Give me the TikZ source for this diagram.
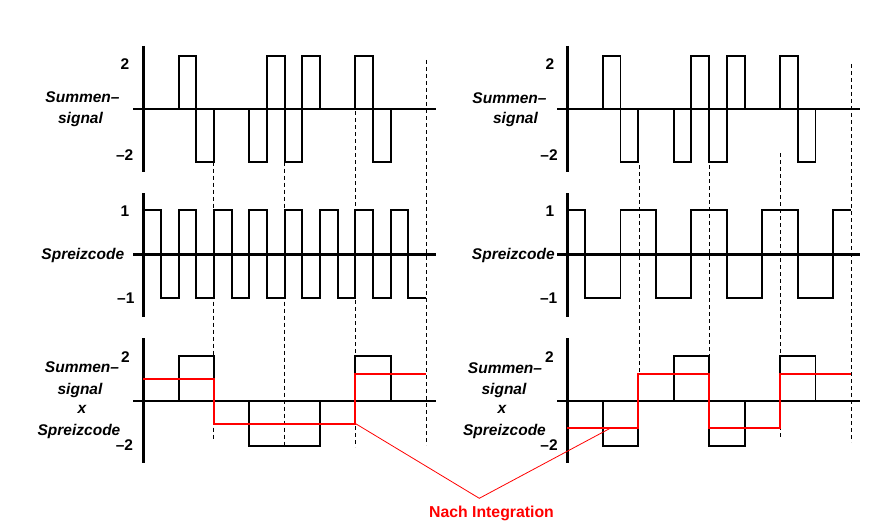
\documentclass[tikz,border=0pt]{standalone}
\usepackage{fontspec}
\setmainfont{Liberation Sans}

\begin{document}
\begin{tikzpicture}[x=1pt, y=-1pt,
  axis/.style = {line width=2.5pt},
  sig/.style = {line width=1.9pt},
  integ/.style = {red, line width=2pt},
  guide/.style = {line width=0.8pt, dash pattern=on 4pt off 3pt},
  link/.style = {red, line width=0.8pt},
  lbl/.style = {font=\fontsize{15.5}{18}\selectfont\bfseries\itshape, inner sep=0pt, anchor=base},
  num/.style = {font=\fontsize{15.5}{18}\selectfont\bfseries, inner sep=0pt, anchor=base},
  ]
  \useasboundingbox (0,0) rectangle (876,527);

  \foreach \gx/\ga/\gb in {213.3/161.7/440, 284.6/161.7/445, 355.5/111/447, 426.4/60/445,
                           639/165/374, 709.5/165/374, 780/153/437, 851/64/442}
    \draw[guide] (\gx,\ga) -- (\gx,\gb);

  \foreach \ox in {143.3,567.3}
    \foreach \ya/\yb/\ym in {46/171.7/109, 193/316.7/254.3, 338/463/401} {
      \draw[axis] (\ox,\ya) -- (\ox,\yb);
      \draw[axis] (\ox-10,\ym) -- (\ox+293,\ym);
    }

  % left column
  \begin{scope}[shift={(143.3pt,-109pt)}, x=17.67pt, y=26.6pt]
    \draw[sig] (0,0) \foreach \v [count=\k from 0] in {0,0,2,-2,0,0,-2,2,-2,2,0,0,2,-2,0,0}
      { -- (\k,\v) -- (\k+1,\v) };
  \end{scope}
  \begin{scope}[shift={(143.3pt,-254.3pt)}, x=17.67pt, y=44pt]
    \draw[sig] (0,1) \foreach \v [count=\k from 0] in {1,-1,1,-1,1,-1,1,-1,1,-1,1,-1,1,-1,1,-1}
      { -- (\k,\v) -- (\k+1,\v) };
  \end{scope}
  \begin{scope}[shift={(143.3pt,-401pt)}, x=17.67pt, y=22.5pt]
    \draw[sig] (0,0) \foreach \v [count=\k from 0] in {0,0,2,2,0,0,-2,-2,-2,-2,0,0,2,2,0,0}
      { -- (\k,\v) -- (\k+1,\v) };
    \draw[integ] (0,1) \foreach \v [count=\b from 0] in {1,-1,-1,1.2}
      { -- (4*\b,\v) -- (4*\b+4,\v) };
    \coordinate (intL) at (12,-1);
  \end{scope}

  % right column
  \begin{scope}[shift={(567.3pt,-109pt)}, x=17.73pt, y=26.6pt]
    \draw[sig] (0,0) \foreach \v [count=\k from 0] in {0,0,2,-2,0,0,-2,2,-2,2,0,0,2,-2,0,0}
      { -- (\k,\v) -- (\k+1,\v) };
  \end{scope}
  \begin{scope}[shift={(567.3pt,-254.3pt)}, x=17.73pt, y=44pt]
    \draw[sig] (0,1) \foreach \v [count=\k from 0] in {1,-1,-1,1,1,-1,-1,1,1,-1,-1,1,1,-1,-1,1}
      { -- (\k,\v) -- (\k+1,\v) };
  \end{scope}
  \begin{scope}[shift={(567.3pt,-401pt)}, x=17.73pt, y=22.5pt]
    \draw[sig] (0,0) \foreach \v [count=\k from 0] in {0,0,-2,-2,0,0,2,2,-2,-2,0,0,2,2,0,0}
      { -- (\k,\v) -- (\k+1,\v) };
    \draw[integ] (0,-1.2) \foreach \v [count=\b from 0] in {-1.2,1.2,-1.2,1.2}
      { -- (4*\b,\v) -- (4*\b+4,\v) };
    \coordinate (intR) at (2.45,-1.2);
  \end{scope}

  % labels
  \node[lbl] (sumL)  at (82.5,102.8) {Summen–};
  \node[lbl] (sigL)  at (80.5,123.5) {signal};
  \node[lbl] (codeL) at (82.8,259) {Spreizcode};
  \node[lbl] (prodLa) at (82,372.7) {Summen–};
  \node[lbl] (prodLb) at (80,394) {signal};
  \node[lbl] (prodLc) at (82,413.3) {x};
  \node[lbl] (prodLd) at (79,435) {Spreizcode};

  \node[lbl] (sumR)  at (509.5,103.5) {Summen–};
  \node[lbl] (sigR)  at (515.5,123.5) {signal};
  \node[lbl] (codeR) at (513.3,259) {Spreizcode};
  \node[lbl] (prodRa) at (505,373.5) {Summen–};
  \node[lbl] (prodRb) at (504,394) {signal};
  \node[lbl] (prodRc) at (502,413.3) {x};
  \node[lbl] (prodRd) at (504.5,435) {Spreizcode};

  \node[num] (twoLa)  at (125,69.3) {2};
  \node[num] (mtwoLa) at (124.7,160.7) {–2};
  \node[num] (oneL)   at (125,216) {1};
  \node[num] (moneL)  at (125.8,303.3) {–1};
  \node[num] (twoLb)  at (125.5,362.3) {2};
  \node[num] (mtwoLb) at (124.5,450) {–2};

  \node[num] (twoRa)  at (550,69.3) {2};
  \node[num] (mtwoRa) at (549,160) {–2};
  \node[num] (oneR)   at (550,216) {1};
  \node[num] (moneR)  at (548.7,303.3) {–1};
  \node[num] (twoRb)  at (549.5,362.3) {2};
  \node[num] (mtwoRb) at (549,450.7) {–2};

  \node[font=\fontsize{15.8}{18}\selectfont\bfseries, text=red, inner sep=0pt, anchor=base]
    (nach) at (491.5,517.5) {Nach Integration};
  \coordinate (apex) at (479.3,498.3);
  \draw[link] (intL) -- (apex) -- (intR);
\end{tikzpicture}
\end{document}
